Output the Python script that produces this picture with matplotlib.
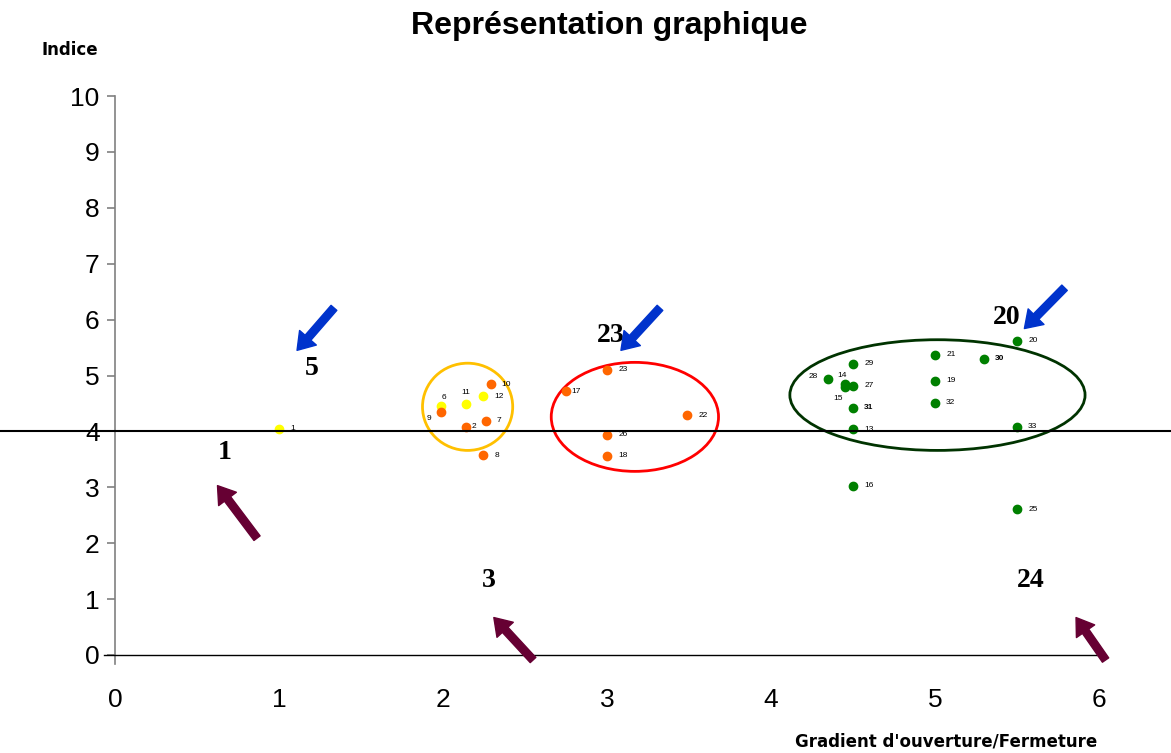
import matplotlib.pyplot as plt
from matplotlib.patches import Ellipse, FancyArrowPatch
from matplotlib.lines import Line2D
from matplotlib import transforms


# yellow points
yellow_x = [1.0, 1.99, 2.14, 2.245]
yellow_y = [4.05, 4.46, 4.49, 4.63]
yellow_labels = ["1", "6", "11", "12"]

# orange points
orange_x = [1.99, 2.29, 2.26, 2.14, 2.245, 3.0, 2.75, 3.49, 3.0, 3.0]
orange_y = [4.35, 4.84, 4.19, 4.08, 3.57, 5.10, 4.72, 4.29, 3.94, 3.56]
orange_labels = ["9", "10", "7", "2", "8", "23", "17", "22", "26", "18"]

# green points
green_x = [5.5, 5.0, 5.3, 4.5, 4.35, 4.45, 4.5, 4.45, 5.0, 5.0, 4.5, 4.5, 5.5, 4.5, 5.5]
green_y = [5.62, 5.37, 5.30, 5.21, 4.93, 4.85, 4.82, 4.79, 4.91, 4.51, 4.42, 4.04, 4.08, 3.03, 2.61]
green_labels = ["20", "21", "30", "29", "28", "14", "27", "15", "19", "32", "31", "13", "33", "16", "25"]
bold_labels = ["30", "31"]

# big group numbers
big_labels = ["5", "1", "23", "3", "20", "24"]
big_x = [1.2, 0.67, 3.02, 2.28, 5.44, 5.585]
big_y = [5.13, 3.63, 5.71, 1.34, 6.03, 1.34]

x_ticks = [0, 1, 2, 3, 4, 5, 6]
y_ticks = list(range(0, 11))

# label offsets in points (default: to the right)
LABEL_OFFSETS = {
    "6": (2, 6, "center"),
    "11": (0, 8, "center"),
    "9": (-9, -5, "center"),
    "14": (-2, 6, "center"),
    "15": (-5, -8, "center"),
    "28": (-11, 2, "center"),
    "17": (4, 0, "left"),
    "2": (4, 0, "left"),
}


def draw_points(ax, xs, ys, labels, color):
    ax.plot(xs, ys, "o", color=color, markersize=6, zorder=4, clip_on=False)
    for x, y, lab in zip(xs, ys, labels):
        dx, dy, ha = LABEL_OFFSETS.get(lab, (8, 0, "left"))
        ax.annotate(
            lab,
            (x, y),
            xytext=(dx, dy),
            textcoords="offset points",
            ha=ha,
            va="center",
            fontsize=6,
            fontweight="bold" if lab in bold_labels else "normal",
            family="Liberation Sans",
            zorder=5,
        )


def main():
    fig = plt.figure(figsize=(11.71, 7.53), dpi=100)
    ax = fig.add_axes([115 / 1171, 98 / 753, 984 / 1171, 559 / 753])
    ax.set_xlim(0, 6)
    ax.set_ylim(0, 10)

    for side in ["top", "right", "bottom", "left"]:
        ax.spines[side].set_visible(False)

    # y axis (gray) and x axis (black) drawn by hand
    ax.plot([0, 0], [-0.16, 10], color="#808080", lw=1.2, clip_on=False)
    ax.plot([-0.07, 6], [0, 0], color="black", lw=1, clip_on=False)

    ax.set_xticks(x_ticks)
    ax.set_yticks(y_ticks)
    ax.tick_params(axis="x", length=0, pad=24, labelsize=19)
    ax.tick_params(axis="y", length=6, width=1.2, color="#808080", pad=5, labelsize=19)
    for lab in ax.get_xticklabels() + ax.get_yticklabels():
        lab.set_family("Liberation Sans")

    # horizontal reference line at y = 4 across the whole figure
    trans = transforms.blended_transform_factory(fig.transFigure, ax.transData)
    fig.add_artist(Line2D([0, 1], [4, 4], transform=trans, color="black", lw=1.5))

    draw_points(ax, yellow_x, yellow_y, yellow_labels, "#FFFF00")
    draw_points(ax, orange_x, orange_y, orange_labels, "#FF6600")
    draw_points(ax, green_x, green_y, green_labels, "#008000")

    # group ellipses
    ax.add_patch(Ellipse((2.15, 4.44), 0.55, 1.56, fill=False, ec="#FFC000", lw=2))
    ax.add_patch(Ellipse((3.17, 4.26), 1.02, 1.95, fill=False, ec="#FF0000", lw=2))
    ax.add_patch(Ellipse((5.015, 4.65), 1.80, 1.98, fill=False, ec="#003300", lw=2))

    for lab, x, y in zip(big_labels, big_x, big_y):
        ax.text(x, y, lab, ha="center", va="center", fontsize=20, fontweight="bold",
                family="Liberation Serif")

    # arrows
    style = "simple,head_width=1.6,head_length=1.2,tail_width=0.55"
    blue = [((1.335, 6.21), (1.11, 5.45)),
            ((3.323, 6.21), (3.085, 5.45)),
            ((5.79, 6.57), (5.545, 5.84))]
    maroon = [((0.866, 2.09), (0.625, 3.03)),
              ((2.549, -0.09), (2.31, 0.67)),
              ((6.04, -0.09), (5.86, 0.67))]
    for arrows, color in [(blue, "#0033CC"), (maroon, "#660033")]:
        for start, end in arrows:
            ax.add_patch(FancyArrowPatch(start, end, arrowstyle=style, mutation_scale=10,
                                         color=color, shrinkA=0, shrinkB=0,
                                         clip_on=False, zorder=6))

    fig.text(609 / 1171, 1 - 26 / 753, "Représentation graphique", ha="center",
             va="center", fontsize=23, fontweight="bold", family="Liberation Sans")
    fig.text(70 / 1171, 1 - 50 / 753, "Indice", ha="center", va="center",
             fontsize=12, fontweight="bold", family="DejaVu Sans")
    fig.text(946 / 1171, 1 - 741 / 753, "Gradient d'ouverture/Fermeture", ha="center",
             va="center", fontsize=12, fontweight="bold", family="DejaVu Sans")

    fig.savefig("out.png", dpi=100, facecolor="white")


if __name__ == "__main__":
    main()
